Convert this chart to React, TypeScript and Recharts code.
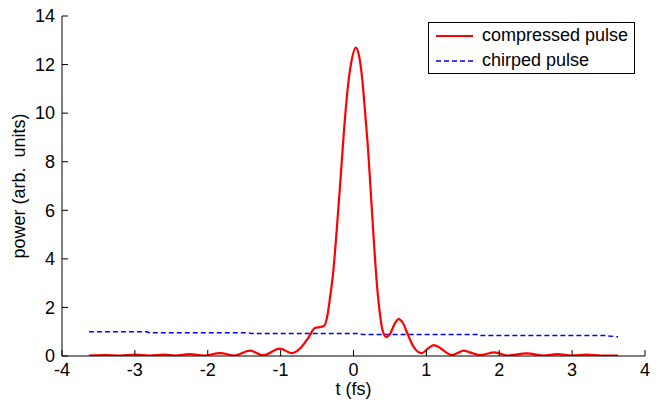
import { Line, LineChart, XAxis, YAxis } from 'recharts'

// compressed pulse
const tCompressed = [
    -3.63, -3.4, -3.2, -3.0, -2.8, -2.6, -2.45, -2.25, -2.05, -1.83, -1.63, -1.42, -1.24, -1.01,
    -0.85, -0.72, -0.62, -0.53, -0.45, -0.4, -0.35, -0.32, -0.28, -0.23, -0.18, -0.13, -0.08,
    -0.03, 0.03, 0.07, 0.12, 0.16, 0.2, 0.24, 0.28, 0.32, 0.36, 0.4, 0.45, 0.5, 0.56, 0.62,
    0.68, 0.75, 0.82, 0.88, 0.94, 1.02, 1.1, 1.18, 1.27, 1.35, 1.43, 1.51, 1.6, 1.73, 1.94,
    2.12, 2.38, 2.6, 2.8, 3.0, 3.2, 3.4, 3.63,
]
const pCompressed = [
    0.02, 0.04, 0.02, 0.06, 0.02, 0.06, 0.02, 0.08, 0.02, 0.12, 0.02, 0.22, 0.03, 0.3,
    0.12, 0.35, 0.75, 1.15, 1.2, 1.25, 1.8, 2.45, 3.4, 5.2, 7.2, 9.3, 11.0,
    12.1, 12.7, 12.45, 11.4, 10.0, 8.5, 6.6, 4.7, 3.0, 1.8, 1.05, 0.78, 0.9, 1.3, 1.52,
    1.35, 0.85, 0.4, 0.18, 0.12, 0.3, 0.45, 0.35, 0.15, 0.04, 0.12, 0.22, 0.15, 0.04, 0.15,
    0.02, 0.11, 0.02, 0.08, 0.02, 0.06, 0.02, 0.02,
]

// chirped pulse
const tChirped = [-3.63, -2.84, -2.8, -1.45, -1.4, 0.08, 0.12, 1.7, 1.74, 3.45, 3.63]
const pChirped = [1.0, 1.0, 0.96, 0.96, 0.93, 0.93, 0.89, 0.89, 0.84, 0.84, 0.79]

const xTicks = [-4, -3, -2, -1, 0, 1, 2, 3, 4]
const yTicks = [0, 2, 4, 6, 8, 10, 12, 14]

const font = '"Liberation Sans", Arial, Helvetica, sans-serif'
const fontSize = 18
const tickLen = 6

const compressedData = tCompressed.map((t, i) => ({ t, p: pCompressed[i] }))
const chirpedData = tChirped.map((t, i) => ({ t, p: pChirped[i] }))

function LeftTick({ x, y, payload }: any) {
    return (
        <g>
            <line x1={x + 7} x2={x + 7 + tickLen} y1={y} y2={y} stroke="#000" />
            <text x={x} y={y} dy="0.35em" textAnchor="end" fontSize={fontSize} fontFamily={font} fill="#000">
                {payload.value}
            </text>
        </g>
    )
}

function BottomTick({ x, y, payload }: any) {
    return (
        <g>
            <line x1={x} x2={x} y1={y - 7} y2={y - 7 - tickLen} stroke="#000" />
            <text x={x} y={y} dy="0.71em" textAnchor="middle" fontSize={fontSize} fontFamily={font} fill="#000">
                {payload.value}
            </text>
        </g>
    )
}

function TopTick({ x, y }: any) {
    return <line x1={x} x2={x} y1={y} y2={y + tickLen} stroke="#000" />
}

function RightTick({ x, y }: any) {
    return <line x1={x} x2={x - tickLen} y1={y} y2={y} stroke="#000" />
}

function LegendBox() {
    const row = (color: string, dash: string | undefined, label: string) => (
        <div style={{ display: 'flex', alignItems: 'center', height: 25 }}>
            <svg width={42} height={10} style={{ marginRight: 5 }}>
                <line x1={1} x2={38} y1={5} y2={5} stroke={color} strokeWidth={dash ? 1.5 : 2} strokeDasharray={dash} />
            </svg>
            <span>{label}</span>
        </div>
    )
    return (
        <div
            style={{
                position: 'absolute',
                left: 428,
                top: 22,
                width: 199,
                height: 50,
                border: '1px solid #000',
                background: '#fff',
                padding: '0 0 0 6px',
                fontFamily: font,
                fontSize: fontSize,
                lineHeight: '25px',
                color: '#000',
            }}
        >
            {row('#ff0000', undefined, 'compressed pulse')}
            {row('#0000ff', '5 3', 'chirped pulse')}
        </div>
    )
}

export default function App() {
    return (
        <div style={{ position: 'absolute', left: 0, top: 0, width: 667, height: 404, background: '#fff' }}>
            <LineChart width={667} height={404} margin={{ top: 16, right: 22, left: 0, bottom: 0 }}>
                <XAxis
                    dataKey="t"
                    type="number"
                    domain={[-4, 4]}
                    ticks={xTicks}
                    height={48}
                    tickSize={0}
                    tickMargin={7}
                    tick={<BottomTick />}
                    axisLine={{ stroke: '#000' }}
                    allowDataOverflow
                    label={{ value: 't (fs)', position: 'insideBottom', offset: 9, fontSize: fontSize, fontFamily: font, fill: '#000' }}
                />
                <XAxis
                    xAxisId="top"
                    orientation="top"
                    dataKey="t"
                    type="number"
                    domain={[-4, 4]}
                    ticks={xTicks}
                    height={0}
                    tickSize={0}
                    tickMargin={0}
                    tick={<TopTick />}
                    axisLine={{ stroke: '#000' }}
                    allowDataOverflow
                />
                <YAxis
                    type="number"
                    domain={[0, 14]}
                    ticks={yTicks}
                    width={62}
                    tickSize={0}
                    tickMargin={7}
                    tick={<LeftTick />}
                    axisLine={{ stroke: '#000' }}
                    allowDataOverflow
                    label={{
                        value: 'power (arb.\u00A0 units)',
                        angle: -90,
                        position: 'insideLeft',
                        offset: 19,
                        style: { textAnchor: 'middle' },
                        fontSize: fontSize,
                        fontFamily: font,
                        fill: '#000',
                    }}
                />
                <YAxis
                    yAxisId="right"
                    orientation="right"
                    type="number"
                    domain={[0, 14]}
                    ticks={yTicks}
                    width={0}
                    tickSize={0}
                    tickMargin={0}
                    tick={<RightTick />}
                    axisLine={{ stroke: '#000' }}
                    allowDataOverflow
                />
                <Line
                    data={chirpedData}
                    dataKey="p"
                    type="linear"
                    stroke="#0000ff"
                    strokeWidth={1.5}
                    strokeDasharray="5 3"
                    dot={false}
                    activeDot={false}
                    isAnimationActive={false}
                />
                <Line
                    data={compressedData}
                    dataKey="p"
                    type="monotone"
                    stroke="#ff0000"
                    strokeWidth={2.2}
                    dot={false}
                    activeDot={false}
                    isAnimationActive={false}
                />
            </LineChart>
            <LegendBox />
        </div>
    )
}
